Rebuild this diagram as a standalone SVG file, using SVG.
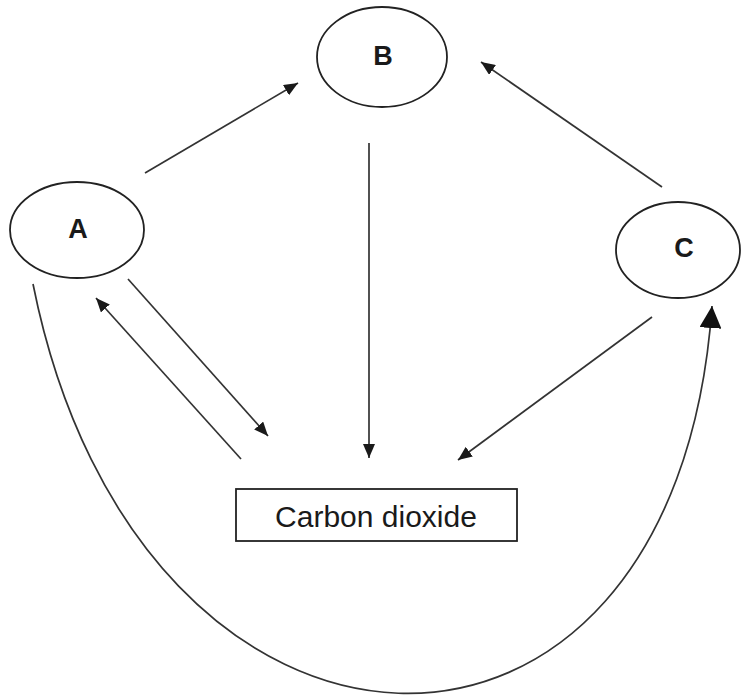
<svg xmlns="http://www.w3.org/2000/svg" width="741" height="697" viewBox="0 0 741 697">
<style>
.node{fill:#fff;stroke:#222;stroke-width:1.8}
.lbl{font-family:"Liberation Sans",Arial,sans-serif;font-weight:bold;font-size:27px;fill:#1a1a1a;text-anchor:middle}
.box{font-family:"Liberation Sans",Arial,sans-serif;font-size:30px;fill:#1a1a1a;text-anchor:middle}
.edge{fill:none;stroke:#333;stroke-width:1.7}
</style>
<defs>
<marker id="ah" viewBox="0 0 14 12" refX="14" refY="6" markerWidth="14" markerHeight="12" markerUnits="userSpaceOnUse" orient="auto">
<path d="M0,0 L14,6 L0,12 Z" fill="#1a1a1a"/>
</marker>
<marker id="big" viewBox="0 0 22 22" refX="22" refY="11" markerWidth="22" markerHeight="22" markerUnits="userSpaceOnUse" orient="auto">
<path d="M0,0 L22,11 L0,22 Z" fill="#111"/>
</marker>
</defs>
<rect width="741" height="697" fill="#fff"/>
<g id="connectors">
<line class="edge" x1="145" y1="173" x2="298" y2="83" marker-end="url(#ah)"/>
<line class="edge" x1="369" y1="143" x2="369" y2="458" marker-end="url(#ah)"/>
<line class="edge" x1="662" y1="187" x2="481" y2="62" marker-end="url(#ah)"/>
<line class="edge" x1="652" y1="317" x2="458" y2="460" marker-end="url(#ah)"/>
<line class="edge" x1="128" y1="279" x2="268" y2="436" marker-end="url(#ah)"/>
<line class="edge" x1="241" y1="459" x2="96" y2="298" marker-end="url(#ah)"/>
<path class="edge" d="M33,284 C139,815 675,837 712,306" marker-end="url(#big)"/>
</g>
<g id="node-B">
<ellipse class="node" cx="382" cy="57" rx="65" ry="50"/>
<text class="lbl" x="383" y="65">B</text>
</g>
<g id="node-A">
<ellipse class="node" cx="77" cy="230" rx="67" ry="48"/>
<text class="lbl" x="78" y="238">A</text>
</g>
<g id="node-C">
<ellipse class="node" cx="678" cy="250" rx="62" ry="48"/>
<text class="lbl" x="684" y="257">C</text>
</g>
<g id="node-CO2">
<rect class="node" x="236" y="489" width="281" height="52"/>
<text class="box" x="376" y="527">Carbon dioxide</text>
</g>
</svg>
